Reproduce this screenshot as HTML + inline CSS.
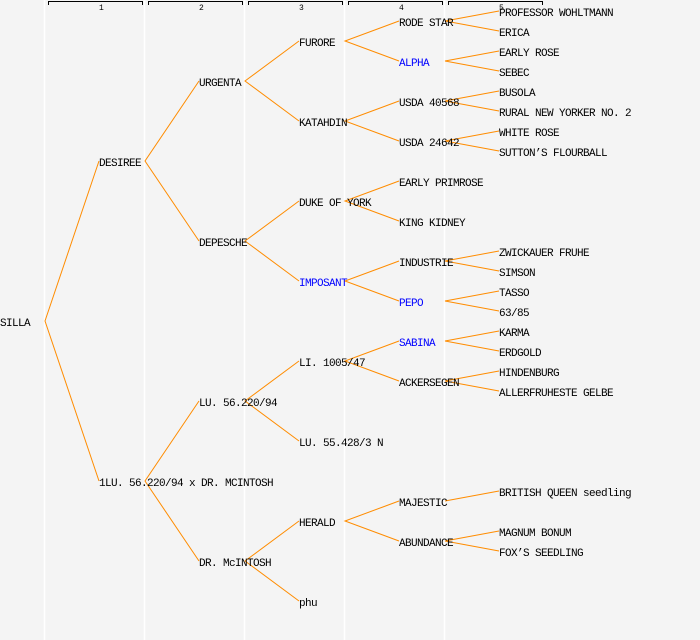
<!DOCTYPE html>
<html><head><style>
html,body{margin:0;padding:0;background:#f4f4f4;}
svg{display:block;}
text{font-family:"Liberation Mono","DejaVu Sans Mono",monospace;font-size:11px;letter-spacing:-0.6px;fill:#000;}
.b{fill:#0000ff;}
.h{font-size:8px;letter-spacing:0;}
</style></head><body>
<svg width="700" height="640" viewBox="0 0 700 640" xmlns="http://www.w3.org/2000/svg">
<rect width="700" height="640" fill="#f4f4f4"/>
<g stroke="#ffffff" stroke-width="1.5">
<line x1="44.5" y1="0" x2="44.5" y2="640"/><line x1="144.5" y1="0" x2="144.5" y2="640"/>
<line x1="244.5" y1="0" x2="244.5" y2="640"/><line x1="344.5" y1="0" x2="344.5" y2="640"/>
<line x1="444.5" y1="0" x2="444.5" y2="640"/>
</g>
<g stroke="#000" stroke-width="1" fill="none">
<path d="M48.5,5V1.5H142.5V5"/><path d="M148.5,5V1.5H242.5V5"/><path d="M248.5,5V1.5H342.5V5"/><path d="M348.5,5V1.5H442.5V5"/><path d="M448.5,5V1.5H542.5V5"/>
</g>
<g class="h"><text class="h" x="99" y="10">1</text><text class="h" x="199" y="10">2</text><text class="h" x="299" y="10">3</text><text class="h" x="399" y="10">4</text><text class="h" x="499" y="10">5</text></g>
<g stroke="#ff8c00" stroke-width="1" fill="none">
<path d="M99,161L45,321L99,481"/>
<path d="M199,81L145,161L199,241"/>
<path d="M199,401L145,481L199,561"/>
<path d="M299,41L245,81L299,121"/>
<path d="M299,201L245,241L299,281"/>
<path d="M299,361L245,401L299,441"/>
<path d="M299,521L245,561L299,601"/>
<path d="M399,21L345,41L399,61"/>
<path d="M399,101L345,121L399,141"/>
<path d="M399,181L345,201L399,221"/>
<path d="M399,261L345,281L399,301"/>
<path d="M399,341L345,361L399,381"/>
<path d="M399,501L345,521L399,541"/>
<path d="M499,11L445,21L499,31"/>
<path d="M499,51L445,61L499,71"/>
<path d="M499,91L445,101L499,111"/>
<path d="M499,131L445,141L499,151"/>
<path d="M499,251L445,261L499,271"/>
<path d="M499,291L445,301L499,311"/>
<path d="M499,331L445,341L499,351"/>
<path d="M499,371L445,381L499,391"/>
<path d="M499,491L445,501"/>
<path d="M499,531L445,541L499,551"/>
</g>
<g>
<text x="0" y="326">SILLA</text>
<text x="99" y="166">DESIREE</text>
<text x="99" y="486">1LU. 56.220/94 x DR. MCINTOSH</text>
<text x="199" y="86">URGENTA</text>
<text x="199" y="246">DEPESCHE</text>
<text x="199" y="406">LU. 56.220/94</text>
<text x="199" y="566">DR. McINTOSH</text>
<text x="299" y="46">FURORE</text>
<text x="299" y="126">KATAHDIN</text>
<text x="299" y="206">DUKE OF YORK</text>
<text x="299" y="286" class="b">IMPOSANT</text>
<text x="299" y="366">LI. 1005/47</text>
<text x="299" y="446">LU. 55.428/3 N</text>
<text x="299" y="526">HERALD</text>
<text x="299" y="606">phu</text>
<text x="399" y="26">RODE STAR</text>
<text x="399" y="66" class="b">ALPHA</text>
<text x="399" y="106">USDA 40568</text>
<text x="399" y="146">USDA 24642</text>
<text x="399" y="186">EARLY PRIMROSE</text>
<text x="399" y="226">KING KIDNEY</text>
<text x="399" y="266">INDUSTRIE</text>
<text x="399" y="306" class="b">PEPO</text>
<text x="399" y="346" class="b">SABINA</text>
<text x="399" y="386">ACKERSEGEN</text>
<text x="399" y="506">MAJESTIC</text>
<text x="399" y="546">ABUNDANCE</text>
<text x="499" y="16">PROFESSOR WOHLTMANN</text>
<text x="499" y="36">ERICA</text>
<text x="499" y="56">EARLY ROSE</text>
<text x="499" y="76">SEBEC</text>
<text x="499" y="96">BUSOLA</text>
<text x="499" y="116">RURAL NEW YORKER NO. 2</text>
<text x="499" y="136">WHITE ROSE</text>
<text x="499" y="156">SUTTON’S FLOURBALL</text>
<text x="499" y="256">ZWICKAUER FRUHE</text>
<text x="499" y="276">SIMSON</text>
<text x="499" y="296">TASSO</text>
<text x="499" y="316">63/85</text>
<text x="499" y="336">KARMA</text>
<text x="499" y="356">ERDGOLD</text>
<text x="499" y="376">HINDENBURG</text>
<text x="499" y="396">ALLERFRUHESTE GELBE</text>
<text x="499" y="496">BRITISH QUEEN seedling</text>
<text x="499" y="536">MAGNUM BONUM</text>
<text x="499" y="556">FOX’S SEEDLING</text>
</g>
</svg>
</body></html>
